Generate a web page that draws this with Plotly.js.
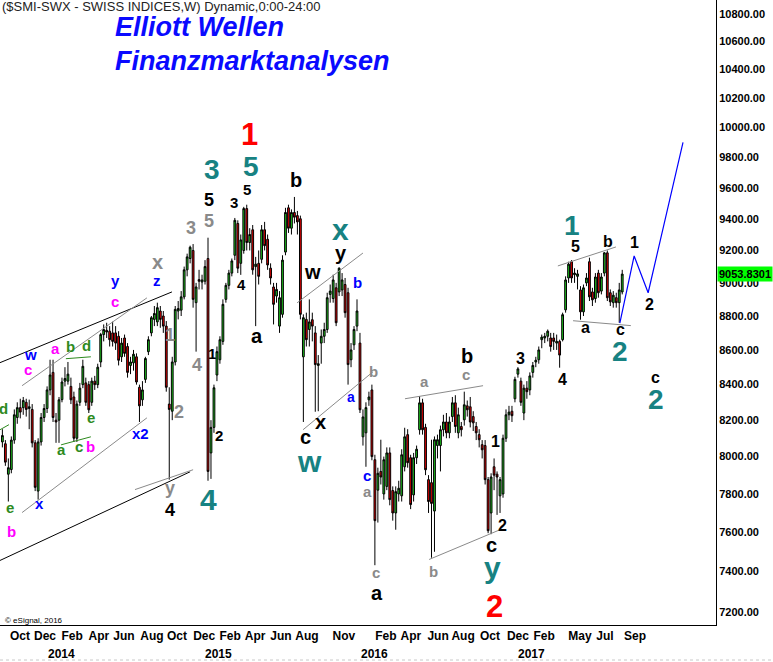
<!DOCTYPE html>
<html><head><meta charset="utf-8">
<script src="https://cdn.plot.ly/plotly-3.0.1.min.js"></script>
<style>html,body{margin:0;padding:0;background:#fff}#chart{width:773px;height:662px}</style>
</head><body><div id="chart"></div>
<script>
// Weekly bars, index 0 = week of 2015-01-12; first bar index -69 (2013-09-16)
const firstBarIndex = -69;
const openP = [
8080,8070,7905,7930,8090,8215,8270,8270,8300,8265,
8260,8075,7815,8080,8215,8265,8370,8470,8200,8200,
8315,8420,8420,8390,8330,8100,8300,8400,8410,8400,
8300,8420,8400,8530,8690,8715,8710,8700,8700,8680,
8560,8670,8620,8510,8525,8560,8385,8314,8430,8590,
8700,8780,8765,8830,8800,8740,8290,8250,8530,8830,
8835,8915,9080,9150,9200,8880,9020,9005,9010,9150,
8020,8160,8455,8543,8650,8900,8985,9060,9170,9370,
9120,9200,9465,9250,9330,9100,9120,9145,9330,9270,
9090,8975,8920,8740,8810,9190,9470,9340,9440,9420,
9400,8560,8780,8720,8778,8700,8510,8640,8680,8720,
8930,8905,8970,8945,8957,8990,8940,8543,8630,8740,
8640,8108,8130,8314,8370,7983,7820,7920,7800,7840,
8020,7818,7700,7800,7790,7945,8120,7994,7795,7994,
8147,8297,8160,7876,7860,7710,8060,8060,8147,8190,
8130,8220,8297,8130,8165,8202,8280,8275,8220,8165,
8120,8065,8060,7876,7700,7945,7905,7790,7800,8100,
8230,8250,8320,8460,8420,8240,8380,8370,8470,8530,
8543,8660,8670,8680,8670,8670,8640,8650,8660,8837,
9030,9130,9050,9040,8957,8825,9000,9130,8945,8905,
9060,8950,9060,9185,8940,8880,8910,8880,8945];
const highP = [
8150,8090,7990,8110,8260,8300,8320,8330,8320,8315,
8290,8090,8100,8240,8290,8390,8543,8543,8240,8330,
8440,8500,8530,8440,8360,8310,8410,8543,8440,8420,
8440,8450,8520,8700,8750,8760,8740,8766,8740,8710,
8670,8690,8640,8560,8600,8580,8400,8420,8560,8680,
8800,8860,8880,8860,8830,8770,8385,8560,8860,8890,
8950,9100,9180,9230,9240,9000,9080,9050,9140,9280,
8200,8400,8620,8680,8900,9000,9080,9150,9405,9390,
9300,9476,9490,9340,9360,9160,9200,9360,9380,9300,
9120,9000,9000,8950,9170,9470,9490,9460,9540,9450,
9420,8810,8820,8900,8820,8740,8570,8720,8760,8940,
8990,9050,9000,9095,9060,9030,8970,8640,8740,8900,
8700,8260,8300,8360,8400,8010,7940,8092,8000,8050,
8050,7840,7840,7870,8040,8158,8150,8010,8020,8060,
8335,8320,8180,7900,8092,8110,8120,8170,8230,8240,
8220,8330,8340,8270,8190,8360,8310,8330,8250,8190,
8150,8090,8090,7890,7910,7990,7920,7890,8120,8260,
8280,8280,8445,8500,8440,8400,8420,8470,8530,8560,
8620,8690,8700,8720,8700,8700,8690,8660,8820,9040,
9130,9140,9090,9080,8980,8990,9060,9155,8970,9060,
9080,9060,9190,9200,8960,8950,8940,9000,9080];
const lowP = [
8050,7950,7760,7910,8070,8180,8210,8230,8220,8150,
8050,7815,7770,8060,8190,8240,8340,8190,8075,8075,
8300,8390,8400,8290,8080,8080,8280,8380,8280,8240,
8280,8370,8380,8500,8650,8670,8620,8620,8600,8510,
8530,8560,8440,8460,8480,8400,8190,8280,8410,8570,
8680,8740,8740,8730,8700,8360,7876,8200,8510,8780,
8800,8900,9040,9120,8850,8590,8960,8960,8990,7870,
7880,8130,8420,8520,8630,8880,8960,9040,9140,9060,
9049,9180,9200,9200,9050,8740,8990,9120,9200,9080,
8990,8750,8880,8700,8790,9170,9310,9300,9370,9300,
8780,8190,8620,8620,8650,8247,8250,8520,8640,8700,
8880,8880,8740,8920,8920,8790,8400,8500,8600,8710,
8240,8060,7945,8280,7980,7432,7650,7850,7770,7820,
7740,7660,7613,7760,7760,7920,7940,7720,7760,7960,
8120,8120,7900,7700,7470,7500,7990,7920,8110,8100,
8100,8190,8130,8100,8110,8170,8220,8160,8140,8090,
8050,7990,7850,7595,7590,7820,7690,7700,7780,8080,
8200,8190,8300,8440,8280,8200,8320,8340,8440,8500,
8520,8610,8640,8650,8590,8600,8600,8497,8650,8820,
9000,9000,9000,8960,8778,8800,8980,8890,8860,8880,
8910,8930,9040,8890,8860,8850,8850,8760,8930];
const closeP = [
8115,7970,7940,8090,8230,8270,8245,8310,8260,8275,
8075,7835,8080,8215,8265,8370,8455,8215,8190,8314,
8415,8435,8460,8314,8100,8290,8380,8505,8300,8258,
8420,8400,8500,8690,8720,8705,8660,8650,8640,8540,
8640,8580,8470,8530,8575,8415,8280,8370,8550,8660,
8790,8815,8850,8780,8740,8385,8260,8530,8840,8845,
8915,9080,9160,9220,8900,8975,9010,9018,9100,7920,
8160,8382,8590,8660,8870,8985,9060,9135,9390,9090,
9266,9465,9250,9300,9080,9115,9040,9330,9230,9110,
9030,8870,8960,8910,9140,9440,9340,9440,9410,9380,
8810,8790,8660,8765,8740,8515,8520,8680,8720,8910,
8950,9018,8760,9090,9018,8820,8515,8600,8720,8830,
8258,8218,8270,8330,8000,7660,7910,7890,7983,8020,
7770,7700,7812,7830,8010,8108,7967,7744,7994,8040,
8297,8147,7929,7760,7750,8092,8092,8147,8190,8130,
8190,8297,8165,8230,8147,8286,8258,8190,8185,8130,
8092,8037,7876,7608,7890,7900,7890,7876,8100,8230,
8245,8225,8430,8490,8300,8380,8360,8450,8510,8540,
8600,8675,8680,8710,8620,8650,8650,8570,8808,9018,
9115,9030,9060,9055,8825,8970,9030,8915,8897,9036,
8940,9036,9185,8910,8885,8925,8880,8957,9053.83];
const lastPrice = 9053.83;

// x-axis labels (positions as week index)
const monthTickIdx = [-63.1,-54.7,-45.6,-36.6,-28.2,-18.8,-10.4,-1.3,7.4,15.8,24.5,33.2,45.6,59.7,68.1,77.2,85.6,94.6,104.0,112.8,124.8,133.2,143.3];
const monthTickText = ['Oct','Dec','Feb','Apr','Jun','Aug','Oct','Dec','Feb','Apr','Jun','Aug','Nov','Feb','Apr','Jun','Aug','Oct','Dec','Feb','May','Jul','Sep'];
const yearIdx = [-49.0, 3.4, 56.0, 108.7];
const yearText = ['2014','2015','2016','2017'];
const yTickVals = [7200,7400,7600,7800,8000,8200,8400,8600,8800,9000,9200,9400,9600,9800,10000,10200,10400,10600,10800];

// projected path (week index, price)
const projIdx = [138.2, 143.0, 147.7, 159.4];
const projPrice = [8758, 9166, 8940, 9900];

// Elliott wave labels: [text, week index, price, colour, size]
const waveLabels = [
 ['1',13.8,9950,'red',31],['5',14.4,9742,'teal',28],['3',1.3,9716,'teal',28],
 ['5',0.3,9520,'black',18],['5',0.3,9386,'gray',18],['3',-5.7,9342,'gray',18],
 ['3',8.7,9507,'black',15],['5',13.1,9586,'black',15],['b',29.5,9651,'black',20],
 ['x',44.6,9329,'teal',30],['y',44.6,9184,'black',20],['w',35.2,9068,'black',20],
 ['b',50.3,9000,'blue',15],['x',-16.8,9129,'gray',20],['z',-17.1,9012,'blue',15],
 ['y',-31.2,9012,'blue',15],['c',-31.2,8885,'magenta',15],['4',11.1,8988,'black',15],
 ['a',16.4,8683,'black',20],['1',-12.8,8689,'gray',18],['4',-3.7,8514,'gray',18],
 ['1',1.3,8578,'black',15],['2',-9.7,8247,'gray',18],['2',3.7,8114,'black',15],
 ['y',-12.8,7833,'gray',18],['4',-12.8,7717,'black',18],['4',0.3,7770,'teal',30],
 ['x2',-22.5,8125,'blue',15],['w',-59.7,8572,'blue',15],['c',-60.4,8485,'magenta',15],
 ['a',-51.3,8607,'magenta',15],['b',-46.3,8619,'green',15],['d',-40.9,8625,'green',15],
 ['a',-49.3,8037,'green',15],['c',-43.3,8053,'green',15],['b',-39.3,8053,'magenta',15],
 ['e',-39.3,8213,'green',15],['x',-56.4,7749,'blue',15],['e',-66.4,7728,'green',15],
 ['b',-66.1,7603,'magenta',15],['d',-68.5,8264,'green',15],['w',33.9,7972,'teal',30],
 ['c',32.6,8108,'black',20],['x',37.6,8191,'black',20],['a',48.0,8331,'blue',14],
 ['b',55.4,8474,'gray',15],['c',53.4,7897,'blue',15],['a',53.4,7812,'gray',15],
 ['c',56.4,7396,'gray',15],['a',56.7,7292,'black',20],['a',72.5,8417,'gray',15],
 ['c',86.6,8456,'gray',15],['b',86.9,8566,'black',20],['b',75.8,7401,'gray',15],
 ['1',96.6,8081,'black',16],['2',98.7,7634,'black',16],['c',95.0,7536,'black',20],
 ['y',95.6,7421,'teal',30],['2',96.0,7228,'red',31],['3',104.7,8549,'black',16],
 ['4',118.8,8428,'black',16],['1',122.1,9360,'teal',28],['5',123.2,9222,'black',16],
 ['b',134.2,9253,'black',16],['a',126.8,8731,'black',16],['c',138.3,8719,'black',16],
 ['2',138.3,8590,'teal',28],['1',143.0,9247,'black',16],['2',148.3,8867,'black',16],
 ['c',150.0,8440,'black',16],['2',150.3,8314,'teal',28]
];

// trend lines: [i0, p0, i1, p1, colour]
const trendLines = [
 [-69.8,8526,-12.1,8945,'black'],[-62.4,8394,-20.5,8909,'gray'],
 [-69.8,7456,-6.0,7918,'black'],[-62.4,7702,-20.5,8213,'gray'],
 [-24.5,7823,-5.0,7929,'gray'],[-69.8,8147,-66.8,8175,'green'],
 [-47.7,8549,-39.3,8560,'green'],[-49.3,8064,-39.3,8108,'green'],
 [29.9,8879,52.0,9184,'gray'],[31.9,8147,55.4,8474,'gray'],
 [66.1,8320,92.3,8394,'gray'],[74.2,7461,98.0,7613,'gray'],
 [117.4,9104,136.9,9222,'gray'],[122.5,8772,141.9,8743,'gray']
];

const colours = {red:'#ff0000', teal:'#178282', black:'#000000', gray:'#8a8a8a', blue:'#0000ff', magenta:'#ff00ff', green:'#2d8a1e'};
const FONT = 'Liberation Sans, Arial, sans-serif';

function dateAt(i){
  const t = Date.UTC(2015,0,12) + i*7*86400000;
  return new Date(t).toISOString().slice(0,19).replace('T',' ');
}
const dates = openP.map((_,k)=>dateAt(firstBarIndex+k));

const traces = [];
traces.push({
  type:'candlestick', x:dates, open:openP, high:highP, low:lowP, close:closeP,
  increasing:{line:{color:'#000',width:1}, fillcolor:'#1ec81e'},
  decreasing:{line:{color:'#000',width:1}, fillcolor:'#e60000'},
  whiskerwidth:0, hoverinfo:'skip', showlegend:false
});
trendLines.forEach(t=>{
  traces.push({type:'scatter', mode:'lines', x:[dateAt(t[0]),dateAt(t[2])], y:[t[1],t[3]],
    line:{color:colours[t[4]], width:1}, hoverinfo:'skip', showlegend:false});
});
traces.push({type:'scatter', mode:'lines', x:projIdx.map(dateAt), y:projPrice,
  line:{color:'#0000ff', width:1.2}, hoverinfo:'skip', showlegend:false});

const annotations = waveLabels.map(l=>({
  x:dateAt(l[1]), y:Math.log10(l[2]), xref:'x', yref:'y', showarrow:false,
  text:'<b>'+l[0]+'</b>', font:{family:FONT, size:l[4], color:colours[l[3]]}
}));
yearText.forEach((t,k)=>annotations.push({x:dateAt(yearIdx[k]), y:-28.5/625, xref:'x', yref:'paper',
  yanchor:'middle', showarrow:false, text:'<b>'+t+'</b>', font:{family:FONT, size:12, color:'#000'}}));
annotations.push({xref:'paper', yref:'paper', x:0, y:1, xanchor:'left', yanchor:'top', yshift:3, showarrow:false,
  text:'($SMI-SWX - SWISS INDICES,W) Dynamic,0:00-24:00', font:{family:FONT, size:13, color:'#222'}});
annotations.push({xref:'paper', yref:'paper', x:113/716, y:1-27/625, xanchor:'left', yanchor:'middle', showarrow:false,
  text:'<b><i>Elliott Wellen</i></b>', font:{family:FONT, size:27, color:'#0a0aff'}});
annotations.push({xref:'paper', yref:'paper', x:113/716, y:1-61/625, xanchor:'left', yanchor:'middle', showarrow:false,
  text:'<b><i>Finanzmarktanalysen</i></b>', font:{family:FONT, size:27, color:'#0a0aff'}});
annotations.push({xref:'paper', yref:'paper', x:3/716, y:1-620/625, xanchor:'left', yanchor:'middle', showarrow:false,
  text:'© eSignal, 2016', font:{family:FONT, size:8, color:'#000'}});
annotations.push({xref:'paper', yref:'y', x:1, y:Math.log10(lastPrice), xanchor:'left', yanchor:'middle', xshift:1,
  showarrow:false, text:'<b>9053.8301</b>', bgcolor:'#00ff00', borderpad:1, font:{family:FONT, size:11, color:'#000'}});

const layout = {
  width:773, height:662, margin:{l:0, r:57, t:0, b:37, pad:0},
  paper_bgcolor:'#fff', plot_bgcolor:'#fff', showlegend:false, boxgap:0.15,
  xaxis:{type:'date', range:[dateAt(-69.8), dateAt(170.47)], showgrid:false, zeroline:false,
    showline:true, linecolor:'#000', linewidth:1, ticks:'', tickangle:0, tickmode:'array',
    tickvals:monthTickIdx.map(dateAt), ticktext:monthTickText,
    tickfont:{family:FONT, size:12, color:'#000', weight:'bold'},
    rangeslider:{visible:false}, fixedrange:true},
  yaxis:{type:'log', side:'right', range:[3.8535, 4.03754], showgrid:false, zeroline:false,
    showline:true, linecolor:'#000', linewidth:1, ticks:'', tickmode:'array',
    tickvals:yTickVals, ticktext:yTickVals.map(v=>v.toFixed(2)),
    tickfont:{family:FONT, size:11, color:'#000', weight:'bold'}, fixedrange:true},
  annotations:annotations,
  shapes:[{type:'line', xref:'paper', yref:'paper', x0:0, x1:773/716, y0:-35/625, y1:-35/625,
    line:{color:'#c8c8c8', width:1, dash:'dot'}}]
};
Plotly.newPlot('chart', traces, layout, {staticPlot:true, displayModeBar:false});
</script></body></html>
